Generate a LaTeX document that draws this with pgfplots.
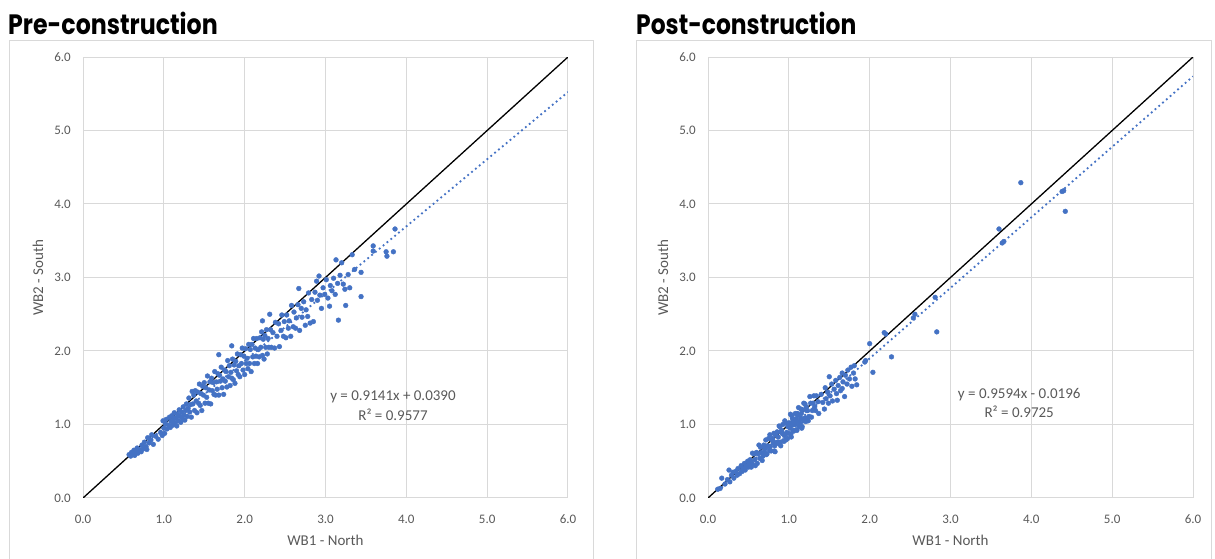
\documentclass[border=0pt]{standalone}
\usepackage{pgfplots}
\pgfplotsset{compat=1.18}
\usepackage{fontspec}
\setmainfont{Carlito}
\newfontfamily\titlefont{Poppins}
\definecolor{ptblue}{HTML}{4472C4}
\definecolor{gridgray}{HTML}{D9D9D9}
\definecolor{txtgray}{HTML}{595959}

\pgfplotsset{
  scatterpanel/.style={
    scale only axis, width=485pt, height=441pt,
    xmin=0, xmax=6, ymin=0, ymax=6,
    xtick={0,1,...,6}, ytick={0,1,...,6},
    grid=major, major grid style={gridgray, line width=1pt},
    axis line style={gridgray, line width=1pt},
    major tick length=0pt,
    /pgf/number format/assume math mode=true,
    /pgf/number format/fixed, /pgf/number format/fixed zerofill,
    /pgf/number format/precision=1,
    tick label style={font=\fontsize{13}{15}\selectfont, text=txtgray},
    xticklabel style={anchor=center, inner sep=0pt, yshift=-21pt},
    yticklabel style={anchor=east, inner sep=0pt, xshift=-12pt},
    xlabel={WB1 - North}, ylabel={WB2 - South},
    label style={font=\fontsize{15}{18}\selectfont, text=txtgray},
    xlabel style={at={(axis description cs:0.5,-0.0952)}, anchor=center},
    ylabel style={at={(axis description cs:-0.0928,0.5)}, anchor=center},
  },
  pts/.style={only marks, mark=*, mark size=2.4pt, ptblue, mark options={fill=ptblue, draw=ptblue}},
  trend/.style={ptblue, line width=1.8pt, dash pattern=on 1.8pt off 3.2pt},
  oneone/.style={black, line width=1.3pt},
}
\tikzset{eqn/.style={font=\fontsize{15}{18}\selectfont, text=txtgray, inner sep=0pt}}

\begin{document}
\begin{tikzpicture}
\useasboundingbox (0pt,0pt) rectangle (1215pt,559pt);

% panel frames
\draw[gridgray, line width=1pt] (9.5pt,-10pt) rectangle (593.5pt,518.5pt);
\draw[gridgray, line width=1pt] (636pt,-10pt) rectangle (1211pt,518.5pt);

% titles
\node[anchor=base west, inner sep=0pt] at (8pt,524pt)
  {\scalebox{0.846}[1]{\titlefont\bfseries\fontsize{28}{30}\selectfont Pre-construction}};
\node[anchor=base west, inner sep=0pt] at (636pt,524pt)
  {\scalebox{0.836}[1]{\titlefont\bfseries\fontsize{28}{30}\selectfont Post-construction}};

% ---------- Pre-construction ----------
\begin{axis}[scatterpanel, at={(83pt,61pt)}, anchor=origin]
\addplot[pts] table {
x y
0.57 0.59
0.59 0.57
0.60 0.62
0.62 0.60
0.63 0.65
0.64 0.58
0.66 0.63
0.67 0.68
0.68 0.61
0.70 0.66
0.72 0.63
0.73 0.72
0.75 0.67
0.76 0.76
0.78 0.70
0.79 0.66
0.80 0.82
0.82 0.75
0.84 0.79
0.85 0.86
0.87 0.73
0.90 0.84
0.93 0.80
0.96 0.89
0.98 0.85
0.99 1.05
1.00 0.95
1.01 0.88
1.02 1.01
1.03 1.07
1.04 0.94
1.06 0.99
1.07 1.10
1.08 0.96
1.09 1.04
1.10 1.12
1.11 0.99
1.12 1.07
1.13 1.16
1.14 1.02
1.15 1.09
1.16 0.98
1.17 1.14
1.18 1.05
1.19 1.20
1.20 1.11
1.21 1.03
1.22 1.17
1.23 1.08
1.24 1.24
1.25 1.13
1.26 1.06
1.27 1.19
1.28 1.28
1.29 1.11
1.30 1.22
1.31 1.36
1.32 1.17
1.33 1.27
1.34 1.10
1.35 1.45
1.36 1.28
1.37 1.40
1.38 1.19
1.39 1.46
1.40 1.32
1.41 1.16
1.42 1.44
1.43 1.29
1.44 1.55
1.45 1.26
1.46 1.42
1.47 1.19
1.48 1.52
1.49 1.40
1.50 1.57
1.51 1.29
1.52 1.50
1.53 1.37
1.54 1.66
1.55 1.29
1.56 1.47
1.57 1.58
1.58 1.28
1.59 1.63
1.60 1.46
1.61 1.57
1.62 1.41
1.63 1.72
1.64 1.40
1.65 1.58
1.66 1.48
1.67 1.69
1.68 1.95
1.68 1.40
1.69 1.67
1.70 1.59
1.71 1.78
1.72 1.50
1.73 1.62
1.74 1.41
1.75 1.74
1.76 1.59
1.77 1.72
1.78 1.51
1.79 1.87
1.80 1.65
1.81 1.80
1.82 1.53
1.83 1.71
1.84 2.07
1.84 1.63
1.85 1.89
1.86 1.61
1.87 1.81
1.88 1.56
1.89 1.86
1.90 1.73
1.91 1.96
1.92 1.68
1.93 1.80
1.94 1.65
1.95 1.95
1.96 1.83
1.97 2.04
1.98 1.74
1.99 1.93
2.00 1.68
2.01 2.03
2.02 1.83
2.03 1.90
2.04 1.76
2.05 2.09
2.06 1.83
2.07 2.02
2.08 1.72
2.09 2.09
2.10 1.92
2.11 2.17
2.12 1.83
2.13 2.04
2.14 1.93
2.15 2.17
2.16 1.83
2.17 2.02
2.18 1.92
2.19 2.18
2.20 2.05
2.21 2.26
2.22 2.41
2.22 1.94
2.23 2.16
2.24 1.89
2.25 2.21
2.26 2.05
2.27 2.29
2.28 1.96
2.29 2.17
2.30 2.05
2.31 2.50
2.32 2.29
2.33 2.05
2.35 2.25
2.37 2.04
2.38 2.39
2.40 2.20
2.42 2.37
2.43 2.06
2.45 2.28
2.46 2.49
2.48 2.20
2.49 2.40
2.51 2.18
2.52 2.49
2.54 2.31
2.55 2.41
2.57 2.20
2.58 2.62
2.60 2.33
2.61 2.53
2.63 2.31
2.64 2.45
2.66 2.63
2.67 2.85
2.68 2.28
2.70 2.58
2.71 2.46
2.73 2.67
2.75 2.35
2.76 2.56
2.78 2.47
2.79 2.79
2.81 2.38
2.83 2.70
2.85 2.40
2.87 2.80
2.89 2.95
2.90 2.69
2.92 3.02
2.93 2.76
2.95 2.58
2.97 2.86
2.99 2.77
3.01 2.97
3.03 2.72
3.05 2.61
3.06 2.89
3.08 2.82
3.10 2.99
3.12 2.77
3.13 3.24
3.15 2.92
3.16 2.42
3.18 3.03
3.20 3.20
3.22 2.91
3.24 2.84
3.25 2.62
3.28 3.04
3.30 2.86
3.33 3.31
3.36 3.11
3.44 3.07
3.44 2.74
3.59 3.43
3.59 3.36
3.75 3.35
3.76 3.29
3.84 3.35
3.86 3.66
};
% linear trend y = 0.9141x + 0.0390
\addplot[trend] coordinates {(0.57,0.5600) (6,5.5236)};
% 1:1 line
\addplot[oneone] coordinates {(0,0) (6,6)};
\node[eqn] at (axis cs:3.835,1.374) {y = 0.9141x + 0.0390};
\node[eqn] at (axis cs:3.835,1.129) {R² = 0.9577};
\end{axis}

% ---------- Post-construction ----------
\begin{axis}[scatterpanel, at={(708pt,61pt)}, anchor=origin]
\addplot[pts] table {
x y
0.12 0.12
0.15 0.13
0.17 0.27
0.21 0.19
0.24 0.25
0.26 0.38
0.27 0.22
0.29 0.31
0.31 0.35
0.32 0.27
0.34 0.36
0.36 0.31
0.37 0.40
0.39 0.33
0.41 0.44
0.42 0.36
0.43 0.40
0.45 0.47
0.46 0.38
0.47 0.43
0.49 0.50
0.50 0.42
0.51 0.46
0.52 0.52
0.535 0.42
0.55 0.61
0.58 0.52
0.585 0.44
0.60 0.62
0.63 0.72
0.64 0.54
0.66 0.62
0.67 0.51
0.69 0.72
0.70 0.62
0.715 0.79
0.73 0.60
0.74 0.71
0.76 0.65
0.765 0.86
0.78 0.64
0.79 0.79
0.81 0.75
0.815 0.88
0.83 0.63
0.84 0.88
0.85 0.75
0.87 0.83
0.875 0.74
0.89 0.97
0.90 0.71
0.91 0.92
0.93 0.87
0.935 0.78
0.95 1.05
0.96 0.87
0.97 1.02
0.985 0.81
0.99 0.97
1.00 0.88
1.02 1.14
1.025 0.87
1.04 0.99
1.05 1.04
1.06 0.91
1.08 1.15
1.085 1.00
1.10 0.92
1.11 1.13
1.12 1.23
1.14 1.01
1.145 1.09
1.16 0.95
1.17 1.20
1.19 1.08
1.20 1.28
1.21 1.04
1.23 1.19
1.25 1.11
1.26 1.38
1.28 1.10
1.30 1.29
1.32 1.24
1.34 1.39
1.37 1.15
1.40 1.41
0.545 0.47
0.57 0.60
0.61 0.47
0.62 0.60
0.65 0.69
0.68 0.57
0.705 0.67
0.72 0.59
0.75 0.81
0.77 0.70
0.80 0.81
0.82 0.64
0.835 0.86
0.86 0.76
0.88 0.98
0.895 0.76
0.92 0.88
0.94 0.77
0.955 1.02
0.975 0.89
1.01 1.02
1.03 0.83
1.045 1.08
1.07 1.00
1.09 1.08
1.13 0.97
1.15 1.21
1.18 1.05
1.22 1.19
1.24 1.05
1.27 1.29
1.29 1.19
1.31 1.39
1.33 1.19
1.36 1.31
0.805 0.77
0.825 0.71
0.855 0.90
0.885 0.74
0.905 0.90
0.925 1.00
0.945 0.85
0.965 0.79
0.995 1.02
1.015 0.95
1.035 1.12
1.055 0.92
1.075 1.04
1.095 0.93
1.105 1.15
1.125 1.04
1.155 1.15
1.165 0.97
1.185 1.29
1.205 1.09
1.215 1.24
1.235 1.09
1.42 1.30
1.44 1.21
1.45 1.50
1.46 1.35
1.48 1.44
1.49 1.29
1.50 1.65
1.51 1.39
1.53 1.55
1.54 1.32
1.56 1.48
1.58 1.60
1.59 1.42
1.60 1.33
1.61 1.53
1.63 1.64
1.64 1.46
1.66 1.70
1.66 1.49
1.67 1.58
1.69 1.38
1.70 1.67
1.72 1.55
1.73 1.74
1.75 1.62
1.77 1.78
1.78 1.52
1.80 1.70
1.81 1.80
1.82 1.62
1.84 1.54
1.94 1.85
1.95 1.87
2.00 2.10
2.04 1.71
2.18 2.25
2.20 2.23
2.27 1.92
2.54 2.45
2.56 2.50
2.81 2.73
2.83 2.26
3.60 3.66
3.64 3.47
3.66 3.49
3.87 4.29
4.38 4.17
4.40 4.18
4.42 3.90
};
% linear trend y = 0.9594x - 0.0196
\addplot[trend] coordinates {(0.12,0.0955) (6,5.7368)};
% 1:1 line
\addplot[oneone] coordinates {(0,0) (6,6)};
\node[eqn] at (axis cs:3.85,1.401) {y = 0.9594x - 0.0196};
\node[eqn] at (axis cs:3.85,1.170) {R² = 0.9725};
\end{axis}
\end{tikzpicture}
\end{document}
